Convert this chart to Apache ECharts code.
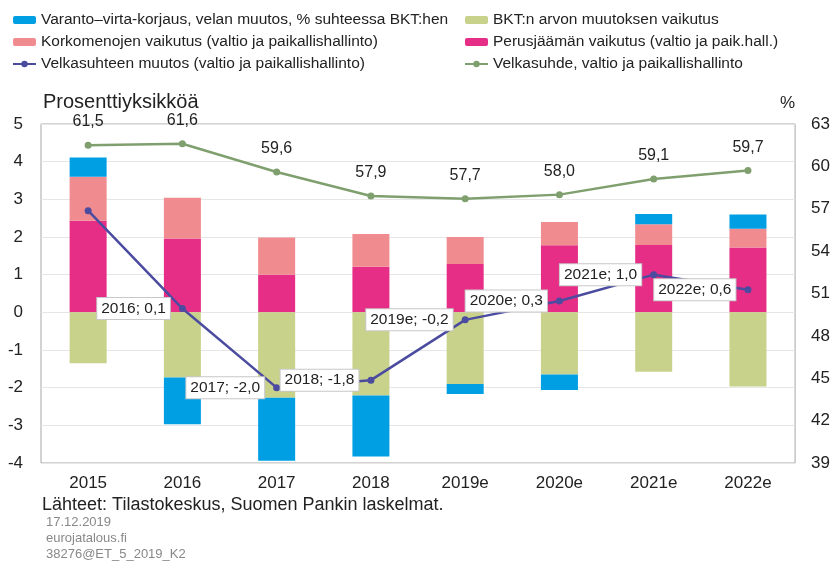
<!DOCTYPE html>
<html>
<head>
<meta charset="utf-8">
<script src="https://cdn.jsdelivr.net/npm/echarts@6/dist/echarts.min.js"></script>
<style>
  html, body { margin: 0; padding: 0; background: #fff; }
  #chart { width: 833px; height: 563px; }
</style>
</head>
<body>
<div id="chart"></div>
<script>
const years = ['2015', '2016', '2017', '2018', '2019e', '2020e', '2021e', '2022e'];
const perusjaama = [2.43, 1.96, 1.00, 1.21, 1.28, 1.78, 1.79, 1.72];
const korkomenot = [1.17, 1.08, 0.99, 0.87, 0.72, 0.62, 0.55, 0.50];
const bktVaikutus = [-1.35, -1.73, -2.27, -2.21, -1.90, -1.65, -1.58, -1.97];
const varantoVirta = [0.51, -1.24, -1.67, -1.62, -0.27, -0.41, 0.27, 0.38];
const velkasuhteenMuutos = [2.7, 0.1, -2.0, -1.8, -0.2, 0.3, 1.0, 0.6];
const velkasuhde = [61.5, 61.6, 59.6, 57.9, 57.7, 58.0, 59.1, 59.7];

const fi = v => v.toFixed(1).replace('.', ',');
const font = 'Liberation Sans, Arial, sans-serif';

const chart = echarts.init(document.getElementById('chart'));

const legendText = { fontSize: 15.5, color: '#222', fontFamily: font };

chart.setOption({
    backgroundColor: '#fff',
    animation: false,
    textStyle: { fontFamily: font, color: '#222' },
    legend: [
        {
            orient: 'vertical', left: 12, top: 12, padding: 0, itemGap: 6,
            itemWidth: 23, itemHeight: 8,
            textStyle: legendText,
            data: ['Varanto\u2013virta-korjaus, velan muutos, % suhteessa BKT:hen',
                'Korkomenojen vaikutus (valtio ja paikallishallinto)',
                'Velkasuhteen muutos (valtio ja paikallishallinto)']
        },
        {
            orient: 'vertical', left: 464, top: 12, padding: 0, itemGap: 6,
            itemWidth: 23, itemHeight: 8,
            textStyle: legendText,
            data: ['BKT:n arvon muutoksen vaikutus',
                'Perusjäämän vaikutus (valtio ja paik.hall.)',
                'Velkasuhde, valtio ja paikallishallinto']
        }
    ],
    grid: {
        left: 41, right: 37, top: 124, bottom: 100,
        show: true, borderColor: '#a6a6a6', borderWidth: 1
    },
    xAxis: {
        type: 'category',
        data: years,
        axisLine: { show: false },
        axisTick: { show: false },
        axisLabel: { fontSize: 17, color: '#222', margin: 12 }
    },
    yAxis: [
        {
            type: 'value', min: -4, max: 5, interval: 1,
            name: 'Prosenttiyksikköä',
            nameLocation: 'end', nameGap: 12,
            nameTextStyle: { fontSize: 20, color: '#222', align: 'left', padding: [0, 0, 0, 2] },
            axisLine: { show: false },
            axisTick: { show: false },
            axisLabel: { fontSize: 17, color: '#222', margin: 18 },
            splitLine: { lineStyle: { color: '#e6e6e6' } }
        },
        {
            type: 'value', min: 39, max: 63, interval: 3,
            name: '%',
            nameLocation: 'end', nameGap: 12,
            nameTextStyle: { fontSize: 17, color: '#222', align: 'right', padding: [0, 0, 0, 0] },
            axisLine: { show: false },
            axisTick: { show: false },
            axisLabel: { fontSize: 17, color: '#222', margin: 16 },
            splitLine: { show: false }
        }
    ],
    series: [
        {
            name: 'Perusjäämän vaikutus (valtio ja paik.hall.)',
            type: 'bar', stack: 'a', barWidth: 37,
            itemStyle: { color: '#e62e87' },
            data: perusjaama
        },
        {
            name: 'Korkomenojen vaikutus (valtio ja paikallishallinto)',
            type: 'bar', stack: 'a',
            itemStyle: { color: '#f08b8f' },
            data: korkomenot
        },
        {
            name: 'BKT:n arvon muutoksen vaikutus',
            type: 'bar', stack: 'a',
            itemStyle: { color: '#c8d28a' },
            data: bktVaikutus
        },
        {
            name: 'Varanto\u2013virta-korjaus, velan muutos, % suhteessa BKT:hen',
            type: 'bar', stack: 'a',
            itemStyle: { color: '#009fe3' },
            data: varantoVirta
        },
        {
            name: 'Velkasuhteen muutos (valtio ja paikallishallinto)',
            type: 'line', z: 5,
            symbol: 'circle', symbolSize: 7,
            lineStyle: { color: '#4b4ca0', width: 2.5 },
            itemStyle: { color: '#4b4ca0' },
            label: {
                show: true, position: 'left', distance: 9,
                fontSize: 15.5, color: '#222',
                backgroundColor: '#fff', borderColor: '#c8c8c8', borderWidth: 1,
                padding: [3, 4, 2, 4],
                formatter: p => years[p.dataIndex] + '; ' + fi(p.value)
            },
            data: velkasuhteenMuutos.map((v, i) => i === 0 ? { value: v, label: { show: false } } : v)
        },
        {
            name: 'Velkasuhde, valtio ja paikallishallinto',
            type: 'line', yAxisIndex: 1, z: 4,
            symbol: 'circle', symbolSize: 7,
            lineStyle: { color: '#7fa06e', width: 2.5 },
            itemStyle: { color: '#7fa06e' },
            label: {
                show: true, position: 'top', distance: 12,
                fontSize: 16, color: '#222',
                formatter: p => fi(p.value)
            },
            data: velkasuhde
        }
    ],
    graphic: [
        {
            type: 'text', left: 42, top: 496,
            style: { text: 'Lähteet: Tilastokeskus, Suomen Pankin laskelmat.', fontSize: 18, fill: '#222', fontFamily: font }
        },
        {
            type: 'text', left: 46, top: 516,
            style: { text: '17.12.2019', fontSize: 13, fill: '#888', fontFamily: font }
        },
        {
            type: 'text', left: 46, top: 532,
            style: { text: 'eurojatalous.fi', fontSize: 13, fill: '#888', fontFamily: font }
        },
        {
            type: 'text', left: 46, top: 548,
            style: { text: '38276@ET_5_2019_K2', fontSize: 13, fill: '#888', fontFamily: font }
        }
    ]
});
</script>
</body>
</html>
